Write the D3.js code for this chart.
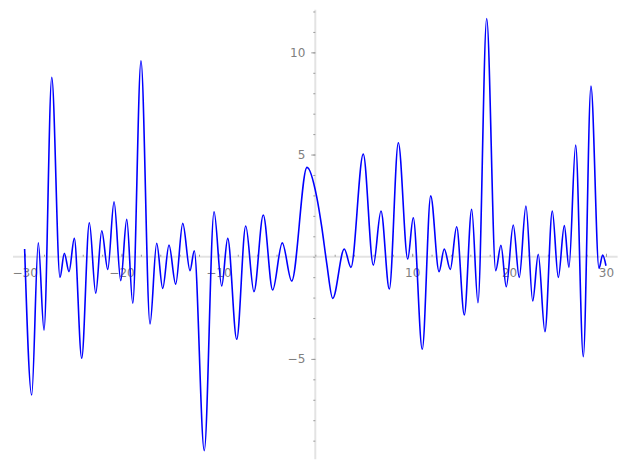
<!DOCTYPE html>
<html>
<head>
<meta charset="utf-8">
<script src="https://cdn.jsdelivr.net/npm/d3@7"></script>
<style>
  html, body { margin: 0; padding: 0; background: #fff; }
  svg { display: block; }
  text { font-family: "DejaVu Sans", sans-serif; }
</style>
</head>
<body>
<svg id="chart" width="627" height="470"></svg>
<script>
// Curve samples (local extrema and a few shoulder points)
const xs = [-30.0, -29.27, -28.59, -28.00, -27.20, -26.35, -25.90, -25.42, -24.87, -24.11,
  -23.32, -22.66, -22.04, -21.42, -20.77, -20.08, -19.46, -18.84, -17.99, -17.06,
  -16.37, -15.75, -15.10, -14.41, -13.68, -12.93, -12.49, -11.46, -10.45, -9.66,
  -9.04, -8.11, -7.18, -6.33, -5.37, -4.40, -3.41, -2.44, -0.86, 0.14,
  0.66, 1.18, 1.80, 2.99, 3.68, 4.95, 5.99, 6.78, 7.64, 8.57,
  9.54, 10.11, 11.04, 11.91, 12.77, 13.31, 13.93, 14.59, 15.38, 16.14,
  16.79, 17.69, 18.62, 19.16, 19.71, 20.43, 21.05, 21.74, 22.44, 23.01,
  23.70, 24.46, 25.08, 25.70, 26.18, 26.87, 27.66, 28.45, 29.28, 29.66, 30.0];
const ys = [0.38, -6.77, 0.68, -3.59, 8.78, -1.01, 0.17, -0.73, 0.90, -4.97,
  1.66, -1.79, 1.27, -0.62, 2.69, -1.17, 1.83, -2.28, 9.59, -3.29,
  0.66, -1.55, 0.57, -1.34, 1.63, -0.68, 0.29, -9.49, 2.20, -1.43,
  0.90, -4.04, 1.50, -1.71, 2.04, -1.63, 0.68, -1.19, 4.37, 2.94,
  1.47, -0.32, -2.04, 0.38, -0.52, 5.02, -0.41, 2.24, -1.58, 5.58,
  -0.11, 1.91, -4.53, 2.98, -0.73, 0.38, -0.62, 1.47, -2.85, 2.32,
  -2.25, 11.66, -0.68, 0.56, -1.47, 1.55, -1.01, 2.48, -2.17, 0.12,
  -3.67, 2.24, -1.01, 1.52, -0.52, 5.46, -4.89, 8.35, -0.57, 0.08, -0.44];

const xMajorTicks = [-30, -20, -10, 10, 20, 30];
const xMinorTicks = d3.range(-30, 31, 2);
const yMajorTicks = [-5, 5, 10];
const yMinorTicks = d3.range(-9, 13, 1);

const data = xs.map((x, i) => ({ x: x, y: ys[i] }));

const svg = d3.select("#chart");

// 2% padding around data range, like the original plot
const xExt = d3.extent(xs), yExt = d3.extent(ys);
const xPad = (xExt[1] - xExt[0]) * 0.02, yPad = (yExt[1] - yExt[0]) * 0.02;

const x = d3.scaleLinear().domain([xExt[0] - xPad, xExt[1] + xPad]).range([13, 617.6]);
const y = d3.scaleLinear().domain([yExt[0] - yPad, yExt[1] + yPad]).range([459.3, 9.8]);

const axisColor = "#e3e3e3";
const tickColor = "#9a9a9a";
const labelColor = "#808080";

// axis lines
svg.append("line")
  .attr("x1", x.range()[0]).attr("x2", x.range()[1])
  .attr("y1", y(0)).attr("y2", y(0))
  .attr("stroke", axisColor).attr("stroke-width", 2);
svg.append("line")
  .attr("x1", x(0)).attr("x2", x(0))
  .attr("y1", y.range()[1]).attr("y2", y.range()[0])
  .attr("stroke", axisColor).attr("stroke-width", 2);

function styleAxis(g) {
  g.select(".domain").remove();
  g.selectAll(".tick line").attr("stroke", tickColor).attr("stroke-width", 1);
  g.selectAll(".tick text").attr("fill", labelColor)
    .style("font-family", "'DejaVu Sans', sans-serif").style("font-size", "12px");
}

// y axis minor + major
svg.append("g").attr("transform", `translate(${x(0)},0)`)
  .call(d3.axisLeft(y).tickValues(yMinorTicks).tickSize(2).tickFormat(""))
  .call(styleAxis);
svg.append("g").attr("transform", `translate(${x(0)},0)`)
  .call(d3.axisLeft(y).tickValues(yMajorTicks).tickSize(4).tickPadding(6)
    .tickFormat(d => d < 0 ? "\u2212" + Math.abs(d) : String(d)))
  .call(styleAxis);

// x axis minor + major (ticks point upward, labels below)
svg.append("g").attr("transform", `translate(0,${y(0)})`)
  .call(d3.axisBottom(x).tickValues(xMinorTicks).tickSize(-2).tickFormat(""))
  .call(styleAxis);
svg.append("g").attr("transform", `translate(0,${y(0)})`)
  .call(d3.axisBottom(x).tickValues(xMajorTicks).tickSize(-3).tickPadding(12)
    .tickFormat(d => d < 0 ? "\u2212" + Math.abs(d) : String(d)))
  .call(styleAxis);

// curve
const line = d3.line()
  .x(d => x(d.x))
  .y(d => y(d.y))
  .curve(d3.curveMonotoneX);

svg.append("path")
  .datum(data)
  .attr("fill", "none")
  .attr("stroke", "#0000ff")
  .attr("stroke-width", 1.6)
  .attr("stroke-linejoin", "round")
  .attr("d", line);
</script>
</body>
</html>
